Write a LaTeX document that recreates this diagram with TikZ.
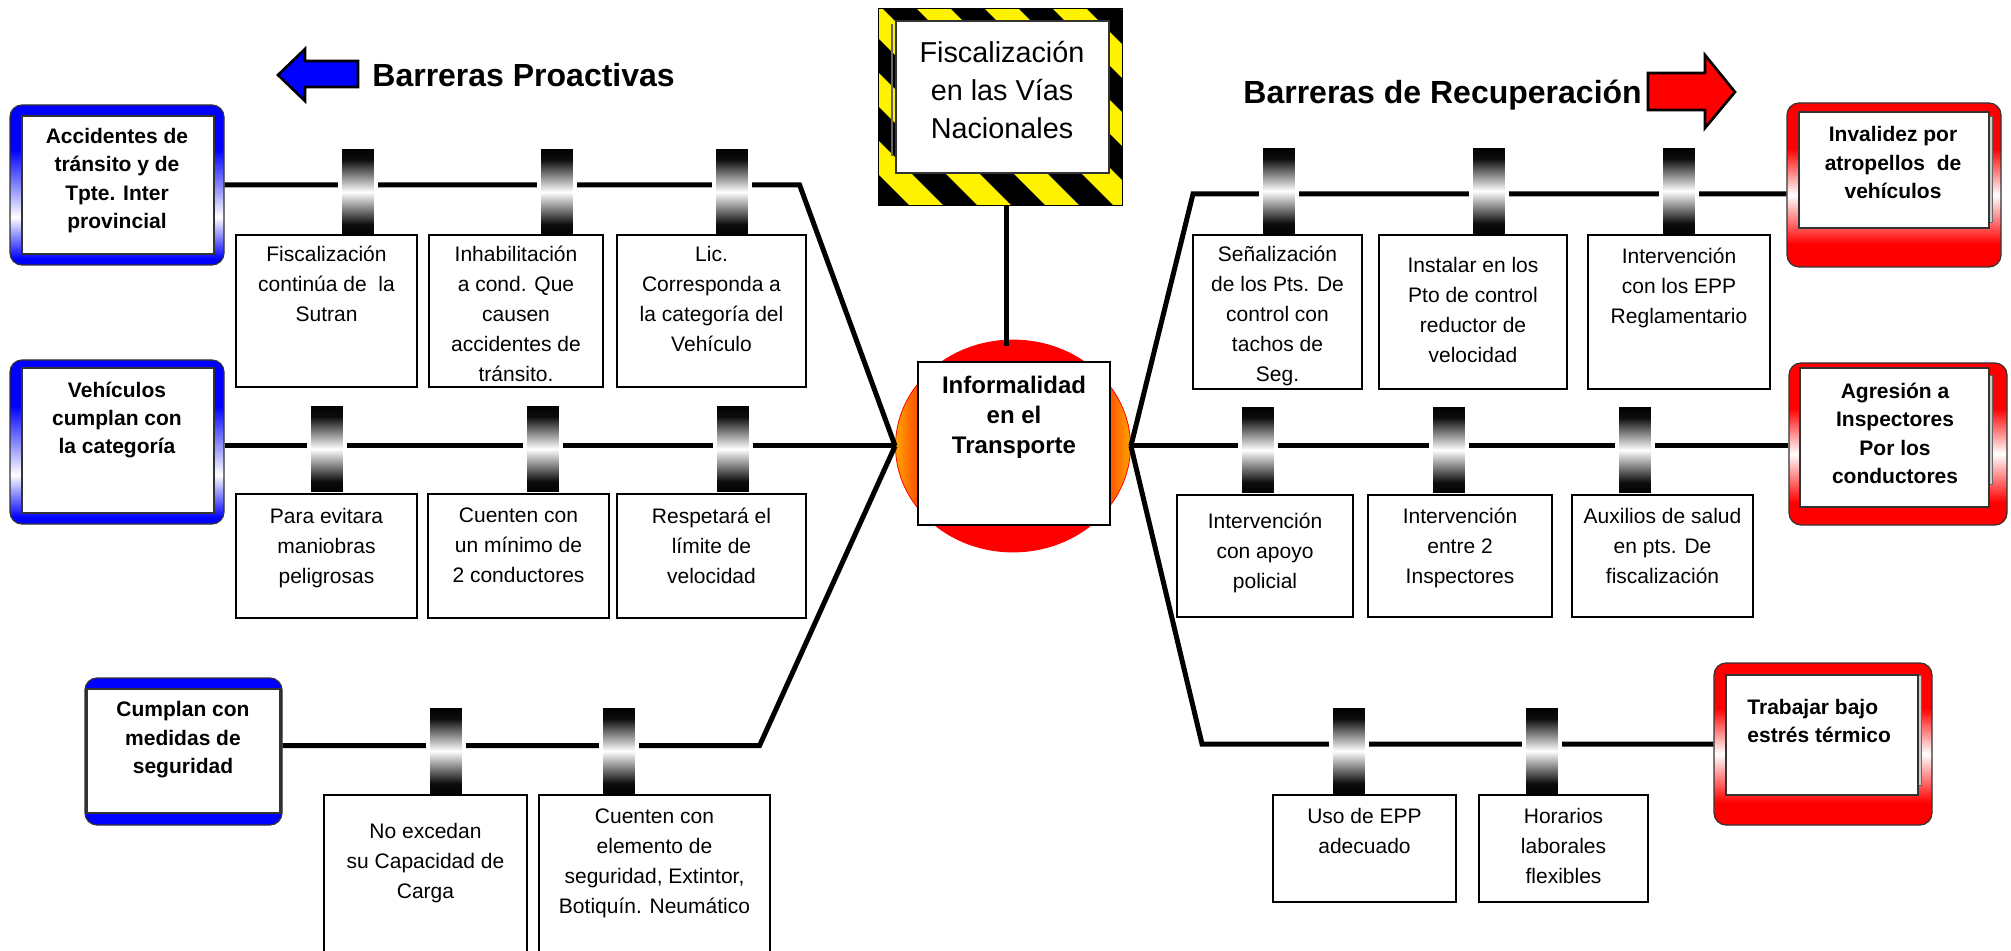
\documentclass[tikz,border=0pt]{standalone}
\usepackage{fontspec}
\setmainfont{Liberation Sans}
\usetikzlibrary{positioning,shapes.geometric}

\definecolor{glow}{RGB}{255,165,0}
\pgfdeclareverticalshading{bluefade}{100bp}{color(0bp)=(blue); color(27bp)=(blue); color(40bp)=(white); color(61bp)=(blue); color(100bp)=(blue)}
\pgfdeclareverticalshading{redfade}{100bp}{color(0bp)=(red); color(32bp)=(red); color(47bp)=(white); color(61bp)=(red); color(100bp)=(red)}
\pgfdeclarehorizontalshading{coreglow}{100bp}{color(0bp)=(glow); color(25bp)=(glow); color(34bp)=(red); color(66bp)=(red); color(75bp)=(glow); color(100bp)=(glow)}
\pgfdeclareverticalshading{barrelshade}{100bp}{color(0bp)=(black); color(25bp)=(black); color(32bp)=(black!95); color(50bp)=(white); color(68bp)=(black!95); color(75bp)=(black); color(100bp)=(black)}

\begin{document}
\begin{tikzpicture}[x=0.5pt, y=-0.5pt,
    every node/.style={inner sep=0pt},
    spine/.style={line width=2.5pt},
    barrel/.style={rectangle, draw=white, line width=2pt, shading=barrelshade, minimum width=18pt, minimum height=45pt},
    barrier/.style={draw, line width=0.6pt, fill=white},
    barriertext/.style={align=center, font=\fontsize{10.5}{15}\selectfont},
    causebox/.style={draw=black!80, line width=0.6pt, rounded corners=6pt, shading=bluefade},
    effectbox/.style={draw=black!80, line width=0.6pt, rounded corners=6pt, shading=redfade},
    innerbox/.style={draw=black!80, line width=0.6pt, fill=white},
    effectpage/.style={draw=black!60, line width=0.5pt, fill=black!20},
    boxtext/.style={align=center, font=\fontsize{10.5}{14.2}\selectfont\bfseries},
    title/.style={font=\fontsize{16}{19}\selectfont\bfseries, anchor=west}]

\useasboundingbox (0,0) rectangle (2011,951);

% titles and arrows
\draw[fill=blue, line width=1.3pt] (278,75) -- (305,49) -- (305,61) -- (358,61) -- (358,87) -- (305,87) -- (305,101) -- cycle;
\node[title] (proact) at (372,75) {Barreras Proactivas};
\node[title] (recup) at (1243,95) {Barreras de Recuperación};
\draw[fill=red, line width=1.3pt] (1735,92) -- (1705,55) -- (1705,73) -- (1648,73) -- (1648,110) -- (1705,110) -- (1705,128) -- cycle;

% warning sign
\node[minimum width=121.5pt, minimum height=98pt] (sign) at (1000.5,107) {};
\begin{scope}
  \clip (sign.north west) rectangle (sign.south east);
  \fill[yellow] (sign.north west) rectangle (sign.south east);
  \foreach \s in {628,696,...,1172}
    \draw[line width=12pt] (\s-250,9-250) -- (\s+300,9+300);
\end{scope}
\draw[line width=0.5pt] (sign.north west) rectangle (sign.south east);
\node[innerbox, minimum width=106.5pt, minimum height=76pt] (signin) at (1002.5,97) {};
\draw[black!60, line width=0.8pt] ([xshift=-1.6pt,yshift=-2pt]signin.north west) -- ([xshift=-1.6pt,yshift=9pt]signin.south west);
\node[align=center, font=\fontsize{14.4}{19}\selectfont] (signtext) at (1002,90) {Fiscalización\\en las Vías\\Nacionales};

% centre event
\node[ellipse, draw=red, shading=coreglow, minimum width=117.5pt, minimum height=106pt] (core) at (1013,446) {};
\draw[spine] ([xshift=3pt]sign.south) -- ([xshift=3pt,yshift=-3pt]sign.south |- core.north);
\node[innerbox, draw=black, minimum width=96pt, minimum height=81.5pt] (hub) at (1014,443.5) {};
\node[align=center, font=\fontsize{12}{15}\selectfont\bfseries] (hubtext) at (1014,417) {Informalidad\\en el\\Transporte};

% causes
\node[causebox, minimum width=107pt, minimum height=80pt] (cause1) at (117,185) {};
\node[innerbox, minimum width=96pt, minimum height=69pt] (cause1in) at (118,185) {};
\node[boxtext] (cause1txt) at (117,180.5) {Accidentes de\\tránsito y de\\Tpte. Inter\\provincial};

\node[causebox, minimum width=107pt, minimum height=82pt] (cause2) at (117,442) {};
\node[innerbox, minimum width=96pt, minimum height=72.5pt] (cause2in) at (118,440.5) {};
\node[boxtext] (cause2txt) at (117,420) {Vehículos\\cumplan con\\la categoría};

\node[draw=black!80, line width=0.6pt, rounded corners=6pt, fill=blue, minimum width=98.5pt, minimum height=73.5pt] (cause3) at (183.5,751.5) {};
\node[innerbox, minimum width=96.5pt, minimum height=62pt] (cause3in) at (183.5,751) {};
\node[boxtext] (cause3txt) at (183,740) {Cumplan con\\medidas de\\seguridad};

% consequences
\node[effectbox, minimum width=107pt, minimum height=82pt] (effect1) at (1894,185) {};
\node[effectpage, minimum width=95pt, minimum height=53pt] (effect1pg) at (1897.5,170) {};
\node[innerbox, minimum width=95pt, minimum height=58pt] (effect1in) at (1894,170) {};
\node[boxtext] (effect1txt) at (1893,162.5) {Invalidez por\\atropellos~ de\\vehículos};

\node[effectbox, minimum width=109pt, minimum height=81pt] (effect2) at (1898,444) {};
\node[effectpage, minimum width=94.5pt, minimum height=54.5pt] (effect2pg) at (1898,430.5) {};
\node[innerbox, minimum width=94.5pt, minimum height=69.5pt] (effect2in) at (1894.5,437.5) {};
\node[boxtext] (effect2txt) at (1895,433.5) {Agresión a\\Inspectores\\Por los\\conductores};

\node[effectbox, minimum width=109pt, minimum height=81pt] (effect3) at (1823,744) {};
\node[effectpage, minimum width=96pt, minimum height=55pt] (effect3pg) at (1825.5,730) {};
\node[innerbox, minimum width=96pt, minimum height=60pt] (effect3in) at (1822,735) {};
\node[boxtext, align=left, anchor=west] (effect3txt) at (1747,721) {Trabajar bajo\\estrés térmico};

% spines
\draw[spine] (cause1.east) -- ++(575,0) -- (core.west);
\draw[spine] (cause2.east |- core.west) -- (core.west);
\draw[spine] ([yshift=3pt]cause3.east) -- ++(477,0) -- (core.west);
\draw[spine] (core.east) -- (1193,194) -- ([yshift=-4.5pt]effect1.west);
\draw[spine] (core.east) -- (effect2.west |- core.east);
\draw[spine] (core.east) -- (1202,744) -- (effect3.west);

\foreach \bx/\by [count=\i] in {358/192, 557/192, 732/192, 327/449, 543/449, 733/449, 446/751, 619/751,
    1279/191, 1489/191, 1679/191, 1258/450, 1449/450, 1635/450, 1349/751, 1542/751}
  \node[barrel] (barrel\i) at (\bx,\by) {};

% barriers, left
\node[barrier, minimum width=90.5pt, minimum height=76pt] (barA1) at (326.5,311) {};
\node[barriertext, below=5.5pt of barA1.north] (barA1t) {Fiscalización\\continúa de~ la\\Sutran};
\node[barrier, minimum width=87pt, minimum height=76pt] (barA2) at (516,311) {};
\node[barriertext, below=5.5pt of barA2.north] (barA2t) {Inhabilitación\\a cond. Que\\causen\\accidentes de\\tránsito.};
\node[barrier, minimum width=94.5pt, minimum height=76pt] (barA3) at (711.5,311) {};
\node[barriertext, below=5.5pt of barA3.north] (barA3t) {Lic.\\Corresponda a\\la categoría del\\Vehículo};

\node[barrier, minimum width=90.5pt, minimum height=62pt] (barB1) at (326.5,556) {};
\node[barriertext, below=7pt of barB1.north] (barB1t) {Para evitara\\maniobras\\peligrosas};
\node[barrier, minimum width=90.5pt, minimum height=62pt] (barB2) at (518.5,556) {};
\node[barriertext, below=7pt of barB2.north] (barB2t) {Cuenten con\\un mínimo de\\2 conductores};
\node[barrier, minimum width=94.5pt, minimum height=62pt] (barB3) at (711.5,556) {};
\node[barriertext, below=7pt of barB3.north] (barB3t) {Respetará el\\límite de\\velocidad};

\node[barrier, minimum width=101.5pt, minimum height=82.5pt] (barC1) at (425.5,877.5) {};
\node[barriertext, below=14pt of barC1.north] (barC1t) {No excedan\\su Capacidad de\\Carga};
\node[barrier, minimum width=115.5pt, minimum height=82.5pt] (barC2) at (654.5,877.5) {};
\node[barriertext, below=7pt of barC2.north] (barC2t) {Cuenten con\\elemento de\\seguridad, Extintor,\\Botiquín. Neumático};

% barriers, right
\node[barrier, minimum width=84.5pt, minimum height=77pt] (barD1) at (1277.5,312) {};
\node[barriertext, below=5.5pt of barD1.north] (barD1t) {Señalización\\de los Pts. De\\control con\\tachos de\\Seg.};
\node[barrier, minimum width=94pt, minimum height=77pt] (barD2) at (1473,312) {};
\node[barriertext, below=11pt of barD2.north] (barD2t) {Instalar en los\\Pto de control\\reductor de\\velocidad};
\node[barrier, minimum width=91pt, minimum height=77pt] (barD3) at (1679,312) {};
\node[barriertext, below=6.5pt of barD3.north] (barD3t) {Intervención\\con los EPP\\Reglamentario};

\node[barrier, minimum width=88pt, minimum height=61pt] (barE1) at (1265,556) {};
\node[barriertext, below=9pt of barE1.north] (barE1t) {Intervención\\con apoyo\\policial};
\node[barrier, minimum width=92pt, minimum height=61pt] (barE2) at (1460,556) {};
\node[barriertext, below=6.5pt of barE2.north] (barE2t) {Intervención\\entre 2\\Inspectores};
\node[barrier, minimum width=90.5pt, minimum height=61pt] (barE3) at (1662.5,556) {};
\node[barriertext, below=6.5pt of barE3.north] (barE3t) {Auxilios de salud\\en pts. De\\fiscalización};

\node[barrier, minimum width=91.5pt, minimum height=53.5pt] (barF1) at (1364.5,848.5) {};
\node[barriertext, below=6.5pt of barF1.north] (barF1t) {Uso de EPP\\adecuado};
\node[barrier, minimum width=84.5pt, minimum height=53.5pt] (barF2) at (1563.5,848.5) {};
\node[barriertext, below=6.5pt of barF2.north] (barF2t) {Horarios\\laborales\\flexibles};

\end{tikzpicture}
\end{document}
